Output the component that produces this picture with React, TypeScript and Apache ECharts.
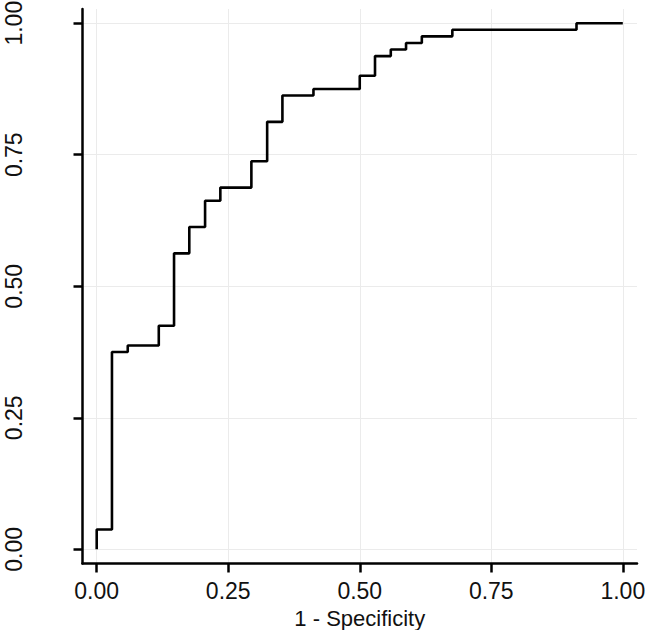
import React, { useEffect, useRef } from "react";
import * as echarts from "echarts";

// ROC step curve: each point is the end of a horizontal run; the vertical jump happens at the previous x
const fpr = [0, 0.029, 0.059, 0.118, 0.147, 0.176, 0.206, 0.235, 0.294, 0.324, 0.353, 0.412, 0.5, 0.529, 0.559, 0.588, 0.618, 0.676, 0.912, 1];
const tpr = [0, 0.0375, 0.375, 0.3875, 0.425, 0.5625, 0.6125, 0.6625, 0.6875, 0.7375, 0.8125, 0.8625, 0.875, 0.9, 0.9375, 0.95, 0.9625, 0.975, 0.9875, 1];
const tickValues = [0, 0.25, 0.5, 0.75, 1];
const tickLabels = ["0.00", "0.25", "0.50", "0.75", "1.00"];
const xTitle = "1 - Specificity";

export default function App() {
  const ref = useRef<HTMLDivElement>(null);
  useEffect(() => {
    if (!ref.current) return;
    const chart = echarts.init(ref.current, undefined, { renderer: "svg" });
    const fmt = (v: number) => {
      const i = tickValues.findIndex((t) => Math.abs(t - v) < 1e-9);
      return i >= 0 ? tickLabels[i] : "";
    };
    const font = "'Liberation Sans', Arial, sans-serif";
    const axisCommon = {
      type: "value" as const,
      min: -0.027,
      max: 1.027,
      axisLine: { show: true, onZero: false, lineStyle: { color: "#000", width: 2.5 } },
      axisTick: { show: true, length: 9, customValues: tickValues, lineStyle: { color: "#000", width: 2.5 } },
      splitLine: { show: true, lineStyle: { color: "#ebebeb", width: 1 } },
    };
    chart.setOption({
      animation: false,
      backgroundColor: "#fff",
      grid: { left: 82.5, right: 9, top: 9, bottom: 66.5, containLabel: false, outerBoundsMode: "none" },
      xAxis: {
        ...axisCommon,
        name: xTitle,
        nameLocation: "middle",
        nameGap: 40,
        nameTextStyle: { color: "#111", fontSize: 22, fontFamily: font },
        axisLabel: {
          customValues: tickValues,
          formatter: fmt,
          margin: 16,
          color: "#111",
          fontSize: 23,
          fontFamily: font,
        },
      },
      yAxis: {
        ...axisCommon,
        axisLabel: {
          customValues: tickValues,
          formatter: fmt,
          rotate: 90,
          margin: 57,
          color: "#111",
          fontSize: 23,
          fontFamily: font,
        },
      },
      series: [
        {
          type: "line",
          step: "start",
          data: fpr.map((x, i) => [x, tpr[i]]),
          showSymbol: false,
          symbol: "none",
          lineStyle: { color: "#000", width: 2.6 },
          clip: false,
        },
      ],
    });
    return () => chart.dispose();
  }, []);
  return <div ref={ref} style={{ position: "fixed", left: 0, top: 0, width: 646, height: 630 }} />;
}
